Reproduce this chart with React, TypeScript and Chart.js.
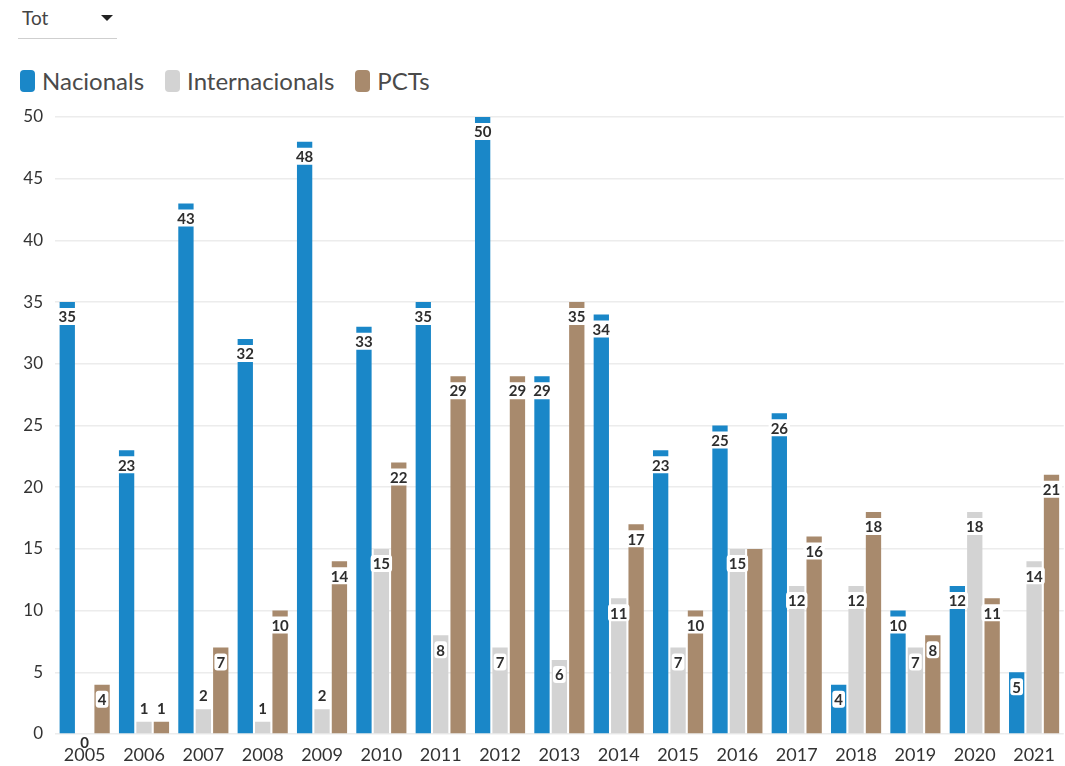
import React, { useEffect, useRef } from "react";
import { Chart, registerables } from "chart.js";

Chart.register(...registerables);

const years = ["2005","2006","2007","2008","2009","2010","2011","2012","2013","2014","2015","2016","2017","2018","2019","2020","2021"];
const nacionals = [35,23,43,32,48,33,35,50,29,34,23,25,26,4,10,12,5];
const internacionals = [0,1,2,1,2,15,8,7,6,11,7,15,12,12,7,18,14];
const pcts = [4,1,7,10,14,22,29,29,35,17,10,15,16,18,8,11,21];

const seriesNames = ["Nacionals", "Internacionals", "PCTs"];
const seriesColors = ["#1a87c8", "#d3d3d3", "#a88a6d"];

const FONT = "Lato, 'Noto Sans', sans-serif";

const labelPlugin = {
  id: "barLabels",
  afterDatasetsDraw(chart: any) {
    const ctx = chart.ctx;
    ctx.save();
    ctx.font = `bold 15px ${FONT}`;
    ctx.textAlign = "center";
    ctx.textBaseline = "middle";
    const drawn: { l: number; r: number; t: number; b: number }[] = [];
    chart.data.datasets.forEach((ds: any, di: number) => {
      const meta = chart.getDatasetMeta(di);
      meta.data.forEach((bar: any, i: number) => {
        const v = ds.data[i];
        const txt = String(v);
        const tw = ctx.measureText(txt).width;
        let cy: number;
        if (v === 0) cy = bar.y + 8;
        else if (v >= 3) cy = bar.y + 14.5;
        else cy = bar.y - 14;
        const w = tw + 4;
        const h = 17;
        const box = { l: bar.x - w / 2, r: bar.x + w / 2, t: cy - h / 2, b: cy + h / 2 };
        const hit = drawn.some((d) => box.l < d.r && box.r > d.l && box.t < d.b && box.b > d.t);
        if (hit) return;
        drawn.push(box);
        if (v !== 0) {
          ctx.fillStyle = "#ffffff";
          ctx.beginPath();
          (ctx as any).roundRect(box.l, box.t, w, h, 3);
          ctx.fill();
        }
        ctx.fillStyle = "#2e2e2e";
        ctx.fillText(txt, bar.x, cy + 1);
      });
    });
    ctx.restore();
  },
};

export default function App() {
  const ref = useRef<HTMLCanvasElement | null>(null);

  useEffect(() => {
    if (!ref.current) return;
    const values = [nacionals, internacionals, pcts];
    const chart = new Chart(ref.current, {
      type: "bar",
      data: {
        labels: years,
        datasets: values.map((d, i) => ({
          label: seriesNames[i],
          data: d,
          backgroundColor: seriesColors[i],
          borderWidth: 0,
          categoryPercentage: 0.88,
          barPercentage: 0.88,
        })),
      },
      options: {
        animation: false,
        responsive: false,
        maintainAspectRatio: false,
        layout: { padding: { top: 117, right: 1, left: 0, bottom: 0 } },
        plugins: {
          legend: { display: false },
          tooltip: { enabled: false },
        },
        scales: {
          x: {
            grid: { display: false, drawTicks: false },
            border: { display: false },
            ticks: {
              color: "#333",
              font: { family: FONT, size: 18 },
              padding: 10,
              maxRotation: 0,
              autoSkip: false,
            },
            afterFit(scale: any) {
              scale.height = 32;
            },
          },
          y: {
            min: 0,
            max: 50,
            grid: { color: "#ececec", drawTicks: false, lineWidth: 1.5 },
            border: { display: false },
            ticks: {
              stepSize: 5,
              color: "#333",
              font: { family: FONT, size: 17 },
              padding: 12,
            },
            afterFit(scale: any) {
              scale.width = 55;
            },
          },
        },
      },
      plugins: [labelPlugin],
    });
    return () => chart.destroy();
  }, []);

  return (
    <div style={{ position: "absolute", left: 0, top: 0, width: 1065, height: 766, background: "#fff", fontFamily: FONT }}>
      <div style={{ position: "absolute", left: 18, top: 0, width: 99, height: 38, borderBottom: "1px solid #cfcfcf" }}>
        <span style={{ position: "absolute", left: 4, top: 6, fontSize: 19, color: "#444" }}>Tot</span>
        <span
          style={{
            position: "absolute",
            left: 83,
            top: 15,
            width: 0,
            height: 0,
            borderLeft: "6px solid transparent",
            borderRight: "6px solid transparent",
            borderTop: "6px solid #222",
          }}
        />
      </div>
      <div style={{ position: "absolute", left: 20, top: 66, display: "flex", alignItems: "center" }}>
        {seriesNames.map((n, i) => (
          <div key={n} style={{ display: "flex", alignItems: "center", marginRight: 21 }}>
            <span style={{ width: 15, height: 22, borderRadius: 4, background: seriesColors[i], marginRight: 7, display: "inline-block" }} />
            <span style={{ fontSize: 24, color: "#4a4a4a", lineHeight: "30px" }}>{n}</span>
          </div>
        ))}
      </div>
      <canvas ref={ref} width={1065} height={766} style={{ position: "absolute", left: 0, top: 0 }} />
    </div>
  );
}
